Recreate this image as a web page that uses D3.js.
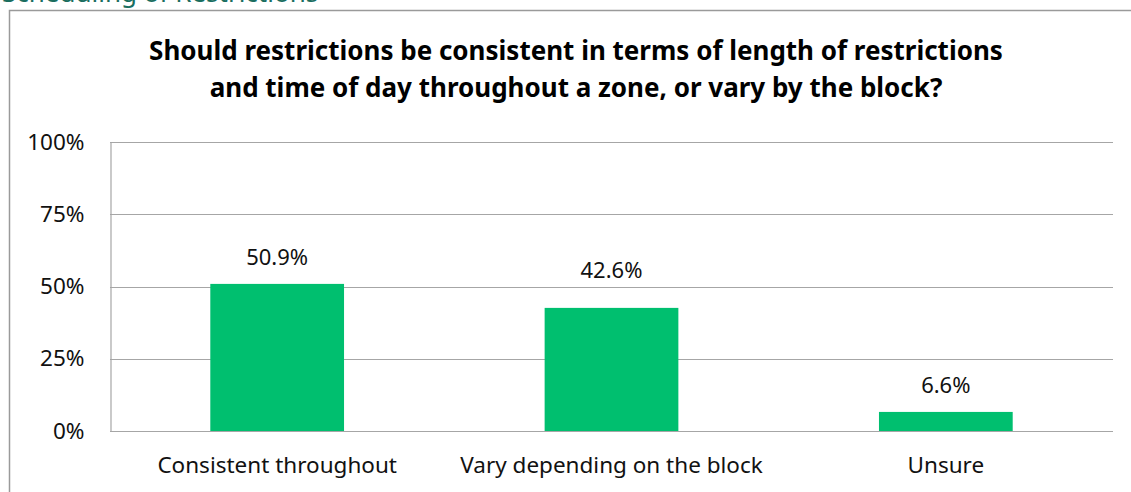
<!DOCTYPE html>
<html><head><meta charset="utf-8">
<script src="https://cdn.jsdelivr.net/npm/d3@7"></script>
<style>body{margin:0;background:#fff;overflow:hidden}svg{display:block}</style>
</head><body>
<script>
const categories = ["Consistent throughout", "Vary depending on the block", "Unsure"];
const values = [50.9, 42.6, 6.6];
const yTicks = [0, 25, 50, 75, 100];
const titleLines = ["Should restrictions be consistent in terms of length of restrictions", "and time of day throughout a zone, or vary by the block?"];
const heading = "Scheduling of Restrictions";

const W = 1131, H = 492;
const svg = d3.select("body").append("svg").attr("width", W).attr("height", H);
const font = "'Noto Sans', 'Open Sans', sans-serif";

// page heading (clipped at top, as in the source page)
svg.append("text").attr("x", 2).attr("y", 2).attr("font-family", font).attr("font-size", 26)
  .attr("fill", "#1b6e5f").text(heading);

// chart border
svg.append("rect").attr("x", 9.5).attr("y", 10.5).attr("width", W + 10).attr("height", H + 10)
  .attr("fill", "#fff").attr("stroke", "#9a9a9a").attr("stroke-width", 1.5);

const x = d3.scaleBand().domain(categories).range([110, 1113]).paddingInner(0.6).paddingOuter(0.3);
const y = d3.scaleLinear().domain([0, 100]).range([431, 142]);

// gridlines
svg.append("g").selectAll("line").data(yTicks).join("line")
  .attr("x1", 110).attr("x2", 1113).attr("y1", d => Math.round(y(d)) + 0.5).attr("y2", d => Math.round(y(d)) + 0.5)
  .attr("stroke", "#a6a6a6").attr("stroke-width", 1.2);

// y axis
const yAxis = svg.append("g").attr("transform", "translate(110.5,0)")
  .call(d3.axisLeft(y).tickValues(yTicks).tickFormat(d => d + "%").tickSize(0).tickPadding(26));
yAxis.select(".domain").attr("stroke", "#a6a6a6").attr("stroke-width", 1.2);
yAxis.selectAll("text").attr("font-family", font).attr("font-size", 22.5).attr("fill", "#111");

// bars
svg.append("g").selectAll("rect").data(values).join("rect")
  .attr("x", (d, i) => x(categories[i])).attr("width", x.bandwidth())
  .attr("y", d => y(d)).attr("height", d => y(0) - y(d)).attr("fill", "#00bf6f");

// value labels (label gap above bar as placed in the source)
const labelGap = [19, 30, 19];
svg.append("g").selectAll("text").data(values).join("text")
  .attr("x", (d, i) => x(categories[i]) + x.bandwidth() / 2).attr("y", (d, i) => y(d) - labelGap[i])
  .attr("text-anchor", "middle").attr("font-family", font).attr("font-size", 22).attr("fill", "#111")
  .text(d => d.toFixed(1) + "%");

// x axis labels
const xAxis = svg.append("g").attr("transform", "translate(0,431)")
  .call(d3.axisBottom(x).tickSize(0).tickPadding(26));
xAxis.select(".domain").remove();
xAxis.selectAll("text").attr("font-family", font).attr("font-size", 22.5).attr("fill", "#111");

// title
svg.append("g").selectAll("text").data(titleLines).join("text")
  .attr("x", 576).attr("y", (d, i) => 60 + i * 37).attr("text-anchor", "middle")
  .attr("font-family", font).attr("font-weight", "bold").attr("font-size", 26).attr("fill", "#000")
  .text(d => d);
</script>
</body></html>
